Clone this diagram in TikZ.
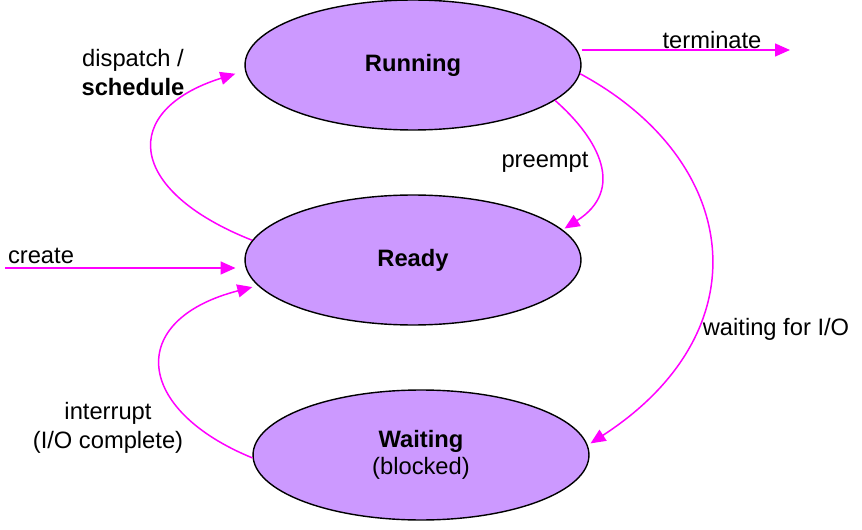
\documentclass[tikz,border=0pt]{standalone}
\usepackage{fontspec}
\setmainfont{Liberation Sans}
\usetikzlibrary{shapes.geometric,arrows.meta}
\definecolor{lilas}{HTML}{CC99FF}
\definecolor{magenta}{HTML}{FF00FF}
\begin{document}
\begin{tikzpicture}[
  x=0.02cm, y=-0.02cm,
  every node/.style={font=\fontsize{13.5}{16.5}\selectfont},
  estado/.style={draw=black, line width=0.8pt, fill=lilas, ellipse, inner sep=0pt,
    minimum width=6.72cm, minimum height=2.6cm, align=center},
  seta/.style={draw=magenta, line width=0.85pt, -{Triangle[length=3mm,width=2.6mm]}},
  rotulo/.style={align=center, inner sep=1pt}
]
\useasboundingbox (0,0) rectangle (862,530);
% estados
\node[estado] (running) at (413,65) {\textbf{Running}};
\node[estado] (ready) at (413,260) {\textbf{Ready}};
\node[estado] (waiting) at (421,455) {\textbf{Waiting}\\[-1pt](blocked)};
% pontas livres
\coordinate (inicio) at (5,268);
\coordinate (fim) at (790,50);
% transicoes
\draw[seta] (running.east |- fim) -- (fim);
\draw[seta] (inicio) -- ([xshift=-5pt]ready.west |- inicio);
\draw[seta] (ready.173) .. controls (125,190) and (120,110) .. ([xshift=-6pt]running.183);
\draw[seta] (running.-14) .. controls (600,140) and (625,190) .. ([xshift=2pt]ready.12);
\draw[seta] (running.-3) .. controls (740,160) and (765,330) .. ([xshift=2pt]waiting.4);
\draw[seta] (waiting.181) .. controls (135,410) and (125,320) .. ([xshift=-4pt]ready.190);
% rotulos
\node[rotulo] (lterm) at (712,40) {terminate};
\node[rotulo] (lcreate) at (41,256) {create};
\node[rotulo] (ldisp) at (133,73) {dispatch /\\\textbf{schedule}};
\node[rotulo] (lpre) at (545,162) {preempt};
\node[rotulo] (lwait) at (776,329) {waiting for I/O};
\node[rotulo] (lint) at (108,428) {interrupt\\(I/O complete)};
\end{tikzpicture}
\end{document}
